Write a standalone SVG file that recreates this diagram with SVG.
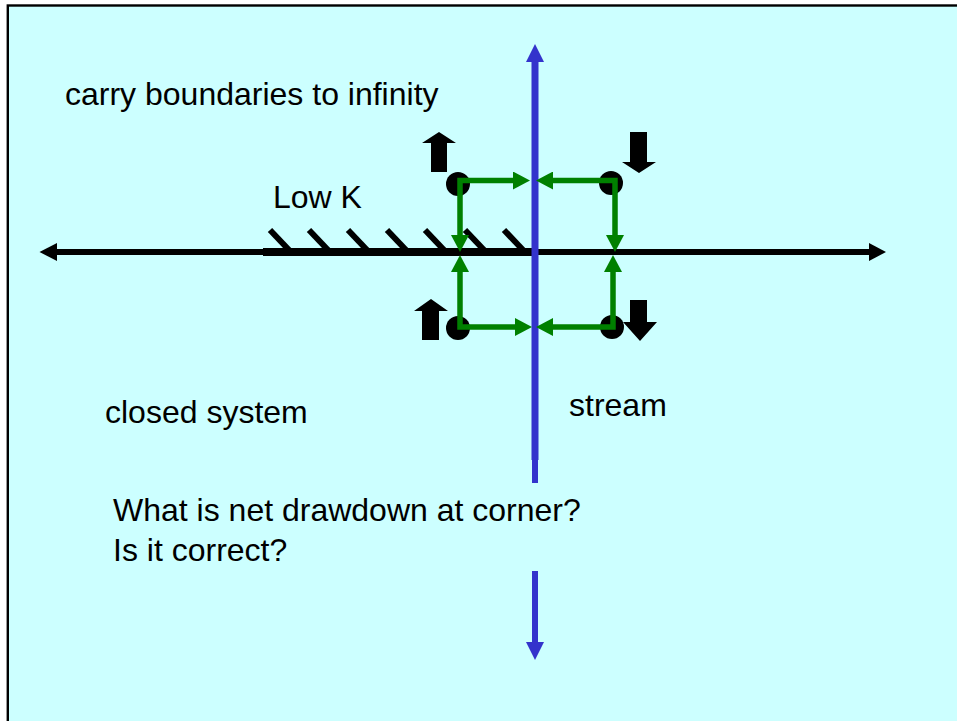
<svg xmlns="http://www.w3.org/2000/svg" width="957" height="721" viewBox="0 0 957 721">
<defs>
<style>
.t{font-family:"Liberation Sans",Arial,sans-serif;font-size:32px;fill:#000}
.g{fill:none;stroke:#008000;stroke-width:5.5;stroke-linejoin:miter}
.blk{fill:#000}
.blu{fill:#3333CC}
.hatch{stroke:#000;stroke-width:6}
</style>
<marker id="gh" markerUnits="userSpaceOnUse" markerWidth="18" markerHeight="18" viewBox="0 0 17 18" refX="0" refY="9" orient="auto-start-reverse">
<path d="M0,0 L17,9 L0,18 z" fill="#008000"/>
</marker>
</defs>
<rect x="0" y="0" width="957" height="721" fill="#fff"/>
<rect x="7.8" y="5.5" width="1000" height="800" fill="#CCFFFF" stroke="#000" stroke-width="2.4"/>

<g id="connectors">
<g id="boundary-line">
<line x1="56" y1="252" x2="870" y2="252" stroke="#000" stroke-width="6"/>
<polygon class="blk" points="39.5,252 57,243 57,261"/>
<polygon class="blk" points="886,252 869,243 869,261"/>
<line x1="263" y1="252" x2="532" y2="252" stroke="#000" stroke-width="8"/>
<g class="hatch">
<line x1="270" y1="230" x2="289" y2="250"/>
<line x1="309" y1="230" x2="328" y2="250"/>
<line x1="348" y1="230" x2="367" y2="250"/>
<line x1="387" y1="230" x2="406" y2="250"/>
<line x1="425" y1="230" x2="444" y2="250"/>
<line x1="465" y1="230" x2="484" y2="250"/>
<line x1="504" y1="230" x2="523" y2="250"/>
</g>
</g>
<g id="stream">
<polygon class="blu" points="535,44 526,62 544,62"/>
<line x1="535" y1="61" x2="535" y2="460" stroke="#3333CC" stroke-width="7"/>
<line x1="535" y1="459" x2="535" y2="483" stroke="#3333CC" stroke-width="6"/>
<line x1="535" y1="571" x2="535" y2="643" stroke="#3333CC" stroke-width="6"/>
<polygon class="blu" points="535,660 526,642 544,642"/>
</g>
</g>

<g id="wells">
<g id="well-tl">
<circle cx="458" cy="184" r="12" class="blk"/>
<polygon class="blk" points="439,132 456,143 447,143 447,172 431,172 431,143 422,143"/>
</g>
<g id="well-tr">
<circle cx="611" cy="183" r="12" class="blk"/>
<polygon class="blk" points="630,132 647,132 647,162 656,162 639,173 622,162 630,162"/>
</g>
<g id="well-bl">
<circle cx="458" cy="328" r="12" class="blk"/>
<polygon class="blk" points="431,299 448,311 439,311 439,340 422,340 422,311 414,311"/>
</g>
<g id="well-br">
<circle cx="612" cy="327" r="12" class="blk"/>
<polygon class="blk" points="630,300 647,300 647,322 657,322 640,341 623,322 630,322"/>
</g>
</g>

<g id="green-arrows">
<path class="g" d="M460,235 L460,180.5 L513,180.5" marker-start="url(#gh)" marker-end="url(#gh)"/>
<path class="g" d="M615,235 L615,180.5 L553,180.5" marker-start="url(#gh)" marker-end="url(#gh)"/>
<path class="g" d="M460,272 L460,327 L515,327" marker-start="url(#gh)" marker-end="url(#gh)"/>
<path class="g" d="M613,272 L613,327 L553,327" marker-start="url(#gh)" marker-end="url(#gh)"/>
</g>

<g id="labels">
<text class="t" x="65" y="105">carry boundaries to infinity</text>
<text class="t" x="273" y="208">Low K</text>
<text class="t" x="105" y="423">closed system</text>
<text class="t" x="569" y="416">stream</text>
<text class="t" x="113" y="521">What is net drawdown at corner?</text>
<text class="t" x="113" y="561">Is it correct?</text>
</g>
</svg>
